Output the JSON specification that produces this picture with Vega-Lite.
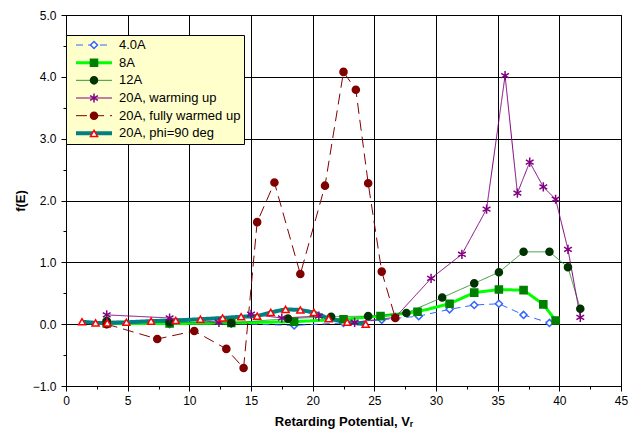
{
  "$schema": "https://vega.github.io/schema/vega-lite/v6.json",
  "width": 555,
  "height": 371,
  "autosize": {"type": "none"},
  "padding": {"left": 66, "top": 15, "right": 16, "bottom": 49},
  "background": "white",
  "config": {
    "font": "Liberation Sans",
    "view": {"stroke": "black", "strokeWidth": 1},
    "axis": {"domainColor": "black", "tickColor": "black", "labelColor": "black", "titleColor": "black", "gridColor": "black", "gridWidth": 1, "labelFontSize": 12, "titleFontSize": 13, "titleFontWeight": "bold", "labelOverlap": false, "labelFlush": false}
  },
  "data": {
    "values": [
      {"series": "4.0A", "x": 3.3, "y": 0.0},
      {"series": "4.0A", "x": 8.4, "y": 0.0},
      {"series": "4.0A", "x": 13.4, "y": 0.01},
      {"series": "4.0A", "x": 18.5, "y": -0.02},
      {"series": "4.0A", "x": 22.5, "y": 0.02},
      {"series": "4.0A", "x": 25.6, "y": 0.07},
      {"series": "4.0A", "x": 28.6, "y": 0.13},
      {"series": "4.0A", "x": 31.1, "y": 0.24},
      {"series": "4.0A", "x": 33.1, "y": 0.31},
      {"series": "4.0A", "x": 35.1, "y": 0.33},
      {"series": "4.0A", "x": 37.1, "y": 0.15},
      {"series": "4.0A", "x": 39.2, "y": 0.02},
      {"series": "8A", "x": 3.3, "y": 0.01},
      {"series": "8A", "x": 8.4, "y": 0.01},
      {"series": "8A", "x": 13.4, "y": 0.02},
      {"series": "8A", "x": 18.5, "y": 0.04},
      {"series": "8A", "x": 22.5, "y": 0.08},
      {"series": "8A", "x": 25.5, "y": 0.13},
      {"series": "8A", "x": 28.5, "y": 0.2},
      {"series": "8A", "x": 31.1, "y": 0.33},
      {"series": "8A", "x": 33.1, "y": 0.51},
      {"series": "8A", "x": 35.1, "y": 0.56},
      {"series": "8A", "x": 37.1, "y": 0.55},
      {"series": "8A", "x": 38.7, "y": 0.32},
      {"series": "8A", "x": 39.7, "y": 0.06},
      {"series": "12A", "x": 3.3, "y": 0.05},
      {"series": "12A", "x": 8.4, "y": 0.03},
      {"series": "12A", "x": 13.4, "y": 0.02},
      {"series": "12A", "x": 18.0, "y": 0.09},
      {"series": "12A", "x": 21.5, "y": 0.12},
      {"series": "12A", "x": 24.5, "y": 0.13},
      {"series": "12A", "x": 27.6, "y": 0.18},
      {"series": "12A", "x": 30.5, "y": 0.43},
      {"series": "12A", "x": 33.1, "y": 0.66},
      {"series": "12A", "x": 35.1, "y": 0.84},
      {"series": "12A", "x": 37.1, "y": 1.17},
      {"series": "12A", "x": 39.2, "y": 1.17},
      {"series": "12A", "x": 40.7, "y": 0.92},
      {"series": "12A", "x": 41.7, "y": 0.25},
      {"series": "20A, warming up", "x": 3.3, "y": 0.15},
      {"series": "20A, warming up", "x": 8.4, "y": 0.1},
      {"series": "20A, warming up", "x": 12.4, "y": 0.03},
      {"series": "20A, warming up", "x": 15.0, "y": 0.16},
      {"series": "20A, warming up", "x": 17.5, "y": 0.1},
      {"series": "20A, warming up", "x": 20.5, "y": 0.13},
      {"series": "20A, warming up", "x": 23.4, "y": 0.03},
      {"series": "20A, warming up", "x": 26.7, "y": 0.11},
      {"series": "20A, warming up", "x": 29.6, "y": 0.74},
      {"series": "20A, warming up", "x": 32.1, "y": 1.13},
      {"series": "20A, warming up", "x": 34.1, "y": 1.86},
      {"series": "20A, warming up", "x": 35.6, "y": 4.02},
      {"series": "20A, warming up", "x": 36.6, "y": 2.12},
      {"series": "20A, warming up", "x": 37.6, "y": 2.62},
      {"series": "20A, warming up", "x": 38.7, "y": 2.22},
      {"series": "20A, warming up", "x": 39.7, "y": 2.02},
      {"series": "20A, warming up", "x": 40.7, "y": 1.21},
      {"series": "20A, warming up", "x": 41.7, "y": 0.11},
      {"series": "20A, fully warmed up", "x": 3.3, "y": 0.0},
      {"series": "20A, fully warmed up", "x": 7.4, "y": -0.24},
      {"series": "20A, fully warmed up", "x": 10.4, "y": -0.11},
      {"series": "20A, fully warmed up", "x": 13.0, "y": -0.4},
      {"series": "20A, fully warmed up", "x": 14.4, "y": -0.71},
      {"series": "20A, fully warmed up", "x": 15.5, "y": 1.65},
      {"series": "20A, fully warmed up", "x": 16.9, "y": 2.29},
      {"series": "20A, fully warmed up", "x": 19.0, "y": 0.81},
      {"series": "20A, fully warmed up", "x": 21.0, "y": 2.24},
      {"series": "20A, fully warmed up", "x": 22.5, "y": 4.08},
      {"series": "20A, fully warmed up", "x": 23.5, "y": 3.79},
      {"series": "20A, fully warmed up", "x": 24.5, "y": 2.28},
      {"series": "20A, fully warmed up", "x": 25.6, "y": 0.85},
      {"series": "20A, fully warmed up", "x": 26.7, "y": 0.1},
      {"series": "20A, phi=90 deg", "x": 1.3, "y": 0.04},
      {"series": "20A, phi=90 deg", "x": 2.4, "y": 0.02},
      {"series": "20A, phi=90 deg", "x": 3.35, "y": 0.02},
      {"series": "20A, phi=90 deg", "x": 4.9, "y": 0.03},
      {"series": "20A, phi=90 deg", "x": 6.9, "y": 0.05},
      {"series": "20A, phi=90 deg", "x": 8.9, "y": 0.06},
      {"series": "20A, phi=90 deg", "x": 10.9, "y": 0.08},
      {"series": "20A, phi=90 deg", "x": 12.7, "y": 0.1},
      {"series": "20A, phi=90 deg", "x": 14.2, "y": 0.12},
      {"series": "20A, phi=90 deg", "x": 15.5, "y": 0.13},
      {"series": "20A, phi=90 deg", "x": 16.6, "y": 0.19},
      {"series": "20A, phi=90 deg", "x": 17.8, "y": 0.24},
      {"series": "20A, phi=90 deg", "x": 19.0, "y": 0.23},
      {"series": "20A, phi=90 deg", "x": 20.1, "y": 0.19},
      {"series": "20A, phi=90 deg", "x": 21.3, "y": 0.09},
      {"series": "20A, phi=90 deg", "x": 22.8, "y": 0.03},
      {"series": "20A, phi=90 deg", "x": 24.3, "y": 0.0}
    ]
  },
  "encoding": {
    "x": {
      "field": "x", "type": "quantitative",
      "scale": {"domain": [0, 45], "nice": false, "zero": false},
      "axis": {
        "title": "Retarding Potential, Vᵣ",
        "values": [0, 2.5, 5, 7.5, 10, 12.5, 15, 17.5, 20, 22.5, 25, 27.5, 30, 32.5, 35, 37.5, 40, 42.5, 45],
        "labelExpr": "datum.value % 5 === 0 ? datum.label : ''",
        "grid": true,
        "gridOpacity": {"condition": {"test": "datum.value % 5 === 0", "value": 1}, "value": 0},
        "tickSize": {"condition": {"test": "datum.value % 5 === 0", "value": 5}, "value": 3},
        "labelPadding": 4,
        "titlePadding": 9
      }
    },
    "y": {
      "field": "y", "type": "quantitative",
      "scale": {"domain": [-1, 5], "nice": false, "zero": false},
      "axis": {
        "title": "f(E)",
        "values": [-1, -0.5, 0, 0.5, 1, 1.5, 2, 2.5, 3, 3.5, 4, 4.5, 5],
        "format": ".1f",
        "labelExpr": "datum.value % 1 === 0 ? datum.label : ''",
        "grid": true,
        "gridOpacity": {"condition": {"test": "datum.value % 1 === 0", "value": 1}, "value": 0},
        "tickSize": {"condition": {"test": "datum.value % 1 === 0", "value": 5}, "value": 3},
        "labelPadding": 5,
        "titlePadding": 5
      }
    }
  },
  "layer": [
    {
      "mark": {"type": "line", "clip": true},
      "encoding": {
        "stroke": {
          "field": "series", "type": "nominal",
          "scale": {"domain": ["4.0A", "8A", "12A", "20A, warming up", "20A, fully warmed up", "20A, phi=90 deg"], "range": ["#3366FF", "#00FF00", "#339933", "#800080", "#800000", "#008080"]},
          "legend": {"orient": "none", "legendX": 0, "legendY": 20, "title": null, "symbolType": "stroke", "symbolSize": 1296, "padding": 3, "fillColor": "#FFFFCC", "strokeColor": "#000000", "labelFontSize": 13, "labelColor": "black", "labelOffset": 5, "symbolOffset": 5, "clipHeight": 14, "rowPadding": 3.67, "labelLimit": 300}
        },
        "strokeDash": {
          "field": "series", "type": "nominal",
          "scale": {"domain": ["4.0A", "8A", "12A", "20A, warming up", "20A, fully warmed up", "20A, phi=90 deg"], "range": [[7, 5], [1, 0], [1, 0], [1, 0], [11, 6], [1, 0]]}
        },
        "strokeWidth": {
          "field": "series", "type": "nominal",
          "scale": {"type": "ordinal", "domain": ["4.0A", "8A", "12A", "20A, warming up", "20A, fully warmed up", "20A, phi=90 deg"], "range": [1, 3, 1, 1, 1, 4]}
        }
      }
    },
    {
      "mark": {"type": "point", "filled": true, "size": 50, "strokeWidth": 1.5, "opacity": 1},
      "encoding": {
        "shape": {
          "field": "series", "type": "nominal",
          "scale": {"domain": ["4.0A", "8A", "12A", "20A, warming up", "20A, fully warmed up", "20A, phi=90 deg"], "range": ["diamond", "square", "circle", "M0,-1.3L0,1.3M-1.1,-0.65L1.1,0.65M-1.1,0.65L1.1,-0.65", "circle", "triangle-up"]},
          "legend": {"orient": "none", "legendX": 0, "legendY": 20, "title": null, "symbolSize": 50, "padding": 3, "labelFontSize": 13, "labelExpr": "''", "symbolOffset": 18.5, "clipHeight": 14, "rowPadding": 3.67, "labelLimit": 300, "symbolStrokeWidth": 1.5}
        },
        "fill": {
          "field": "series", "type": "nominal",
          "scale": {"domain": ["4.0A", "8A", "12A", "20A, warming up", "20A, fully warmed up", "20A, phi=90 deg"], "range": ["#FFFFFF", "#008000", "#003300", "#800080", "#800000", "#FFFFFF"]}
        },
        "stroke": {
          "field": "series", "type": "nominal",
          "scale": {"domain": ["4.0A", "8A", "12A", "20A, warming up", "20A, fully warmed up", "20A, phi=90 deg"], "range": ["#3366FF", "#008000", "#003300", "#800080", "#800000", "#FF0000"]}
        }
      }
    }
  ],
  "resolve": {"scale": {"stroke": "independent", "strokeDash": "independent", "strokeWidth": "independent", "shape": "independent", "fill": "independent"}}
}
